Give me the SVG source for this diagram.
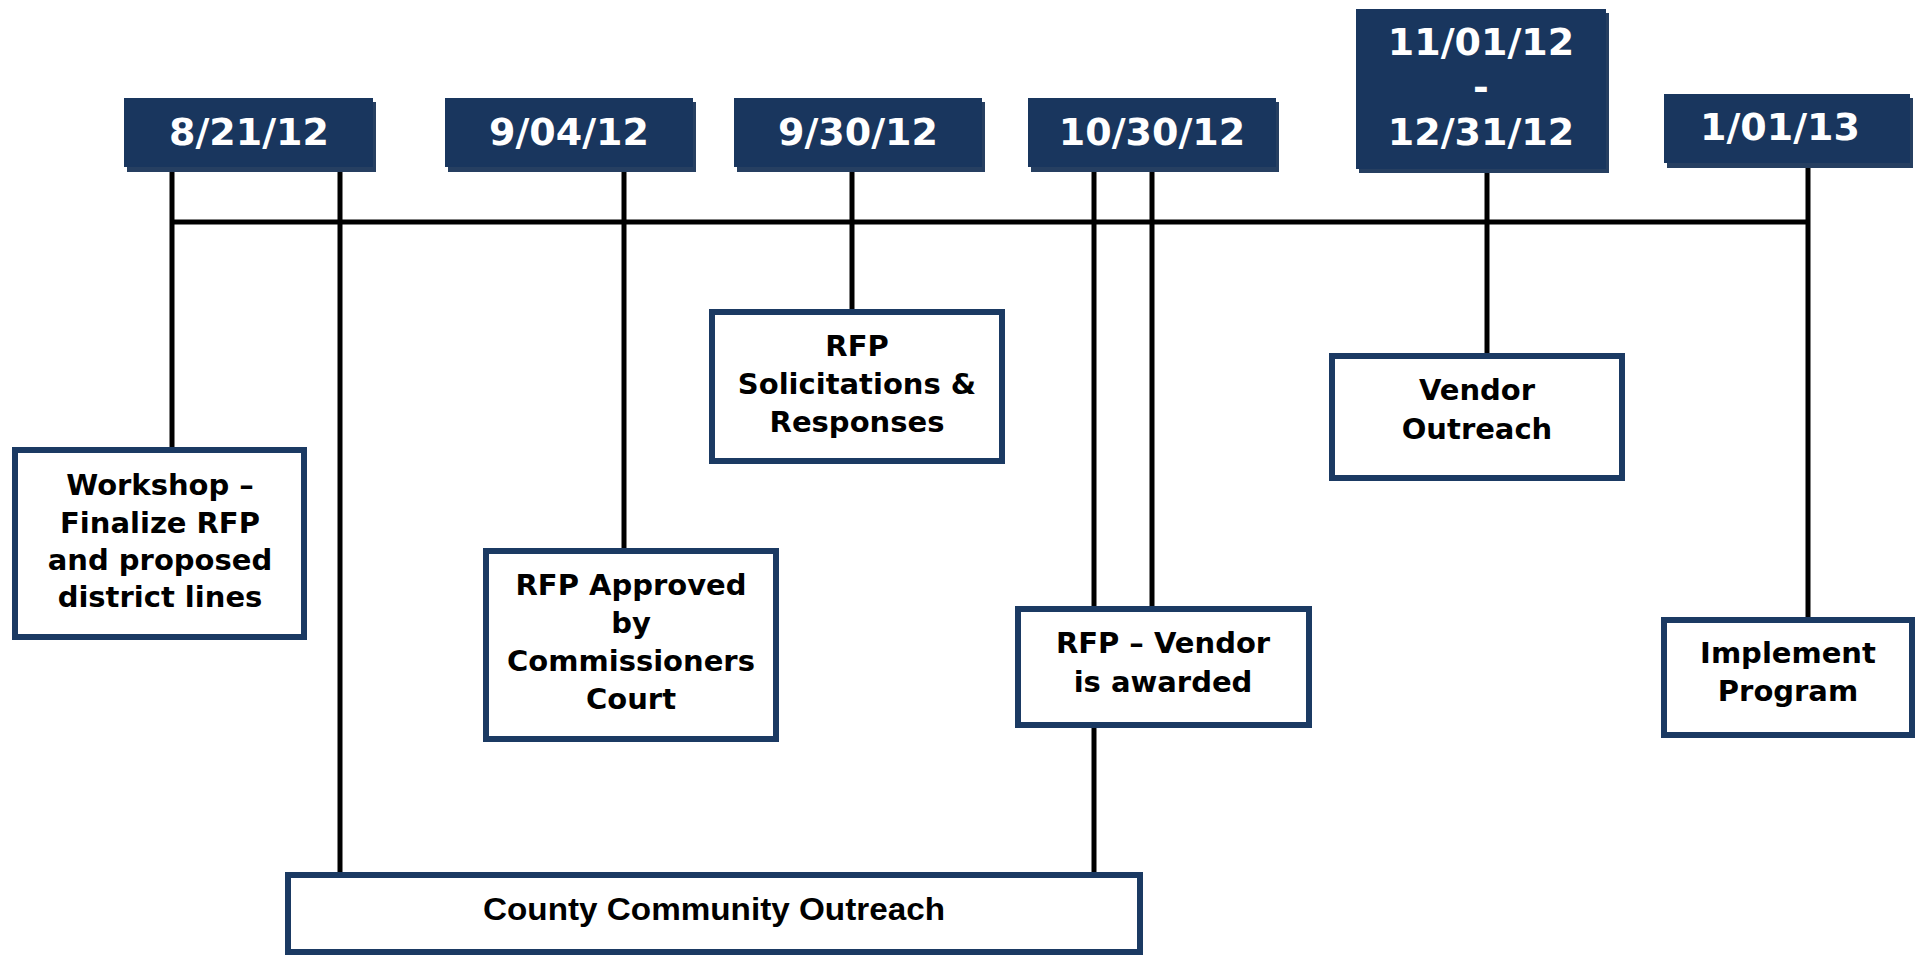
<svg xmlns="http://www.w3.org/2000/svg" width="1916" height="955" viewBox="0 0 1916 955">
<style>
.date{fill:#19365e}
.sh{fill:#263f61}
.dt{font-family:"DejaVu Sans",Verdana,sans-serif;font-weight:bold;font-size:38px;fill:#ffffff;text-anchor:middle}
.box{fill:#ffffff;stroke:#1b3a63;stroke-width:6}
.bt{font-family:"DejaVu Sans",Verdana,sans-serif;font-weight:bold;font-size:29px;fill:#000000;text-anchor:middle}
.ln{stroke:#000000;stroke-width:5;fill:none}
</style>
<rect width="1916" height="955" fill="#ffffff"/>
<g id="connectors">
<line class="ln" x1="170" y1="222" x2="1810" y2="222"/>
<line class="ln" x1="172" y1="167" x2="172" y2="448"/>
<line class="ln" x1="340" y1="167" x2="340" y2="873"/>
<line class="ln" x1="624" y1="167" x2="624" y2="549"/>
<line class="ln" x1="852" y1="167" x2="852" y2="310"/>
<line class="ln" x1="1094" y1="167" x2="1094" y2="873"/>
<line class="ln" x1="1152" y1="162" x2="1152" y2="607"/>
<line class="ln" x1="1487" y1="168" x2="1487" y2="354"/>
<line class="ln" x1="1808" y1="162" x2="1808" y2="618"/>
</g>
<g id="d1"><rect class="sh" x="127" y="102" width="249" height="70"/><rect class="date" x="124" y="98" width="249" height="69"/><text class="dt" x="249" y="145">8/21/12</text></g>
<g id="d2"><rect class="sh" x="448" y="102" width="248" height="70"/><rect class="date" x="445" y="98" width="248" height="69"/><text class="dt" x="569" y="145">9/04/12</text></g>
<g id="d3"><rect class="sh" x="737" y="102" width="248" height="70"/><rect class="date" x="734" y="98" width="248" height="69"/><text class="dt" x="858" y="145">9/30/12</text></g>
<g id="d4"><rect class="sh" x="1031" y="102" width="248" height="70"/><rect class="date" x="1028" y="98" width="248" height="69"/><text class="dt" x="1152" y="145">10/30/12</text></g>
<g id="d5"><rect class="sh" x="1359" y="13" width="250" height="160"/><rect class="date" x="1356" y="9" width="250" height="160"/><text class="dt" x="1481" y="55">11/01/12</text><text class="dt" x="1481" y="100">-</text><text class="dt" x="1481" y="145">12/31/12</text></g>
<g id="d6"><rect class="sh" x="1667" y="98" width="246" height="70"/><rect class="date" x="1664" y="94" width="246" height="69"/><text class="dt" x="1780" y="140">1/01/13</text></g>
<g id="n1"><rect class="box" x="15" y="450" width="289" height="187"/><text class="bt" x="160" y="495">Workshop –</text><text class="bt" x="160" y="533">Finalize RFP</text><text class="bt" x="160" y="570">and proposed</text><text class="bt" x="160" y="607">district lines</text></g>
<g id="n2"><rect class="box" x="486" y="551" width="290" height="188"/><text class="bt" x="631" y="595">RFP Approved</text><text class="bt" x="631" y="633">by</text><text class="bt" x="631" y="671">Commissioners</text><text class="bt" x="631" y="709">Court</text></g>
<g id="n3"><rect class="box" x="712" y="312" width="290" height="149"/><text class="bt" x="857" y="356">RFP</text><text class="bt" x="857" y="394">Solicitations &amp;</text><text class="bt" x="857" y="432">Responses</text></g>
<g id="n4"><rect class="box" x="1018" y="609" width="291" height="116"/><text class="bt" x="1163" y="653">RFP – Vendor</text><text class="bt" x="1163" y="692">is awarded</text></g>
<g id="n5"><rect class="box" x="1332" y="356" width="290" height="122"/><text class="bt" x="1477" y="400">Vendor</text><text class="bt" x="1477" y="439">Outreach</text></g>
<g id="n6"><rect class="box" x="1664" y="620" width="248" height="115"/><text class="bt" x="1788" y="663">Implement</text><text class="bt" x="1788" y="701">Program</text></g>
<g id="n7"><rect class="box" x="288" y="875" width="852" height="77"/><text x="714" y="920" text-anchor="middle" font-family="'Liberation Sans',Arial,sans-serif" font-weight="bold" font-size="32" textLength="462" lengthAdjust="spacingAndGlyphs" fill="#000000">County Community Outreach</text></g>
</svg>
